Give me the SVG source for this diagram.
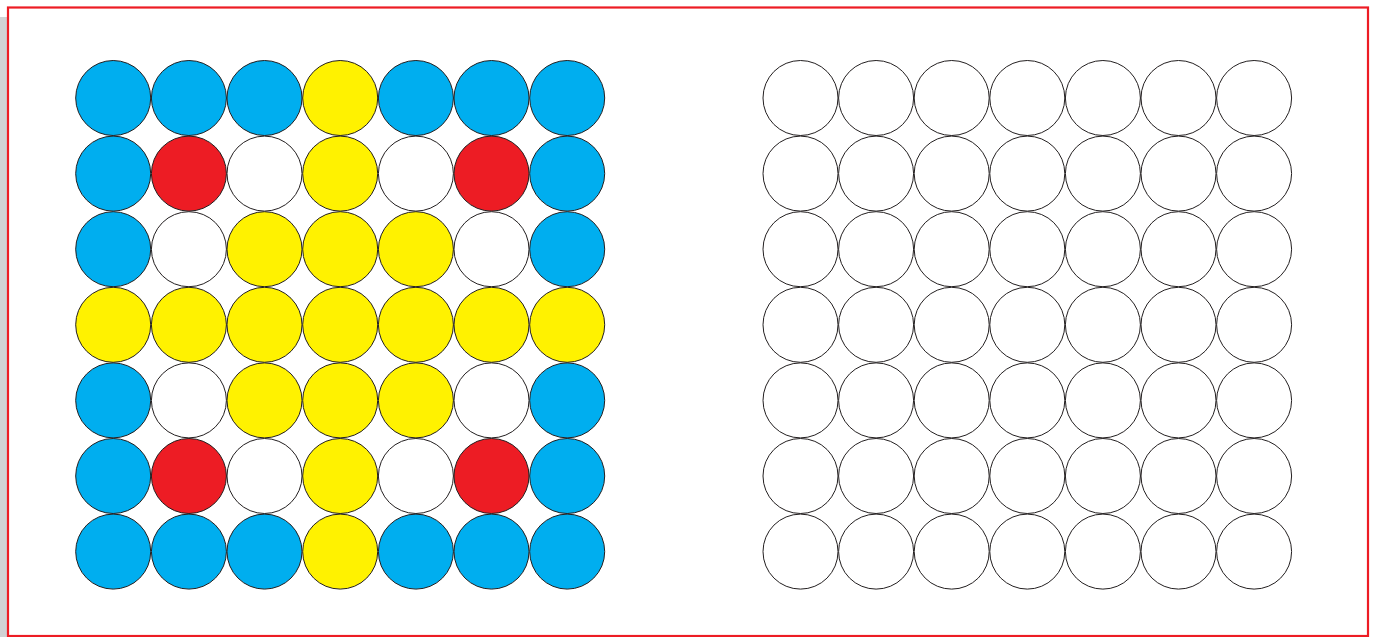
<svg xmlns="http://www.w3.org/2000/svg" width="1377" height="637" viewBox="0 0 1377 637">
<style>
circle{stroke:#231f20;stroke-width:1}
.b{fill:#00aeef}.y{fill:#fff200}.r{fill:#ed1c24}.w{fill:#ffffff}
</style>
<rect x="0" y="0" width="1377" height="637" fill="#ffffff"/>
<rect x="0" y="17" width="8" height="620" fill="#d1d2d4"/>
<rect x="8" y="7.5" width="1360" height="628.5" fill="#ffffff" stroke="#ed1c24" stroke-width="2.2"/>
<g id="left-grid">
<g id="L1"><circle class="b" cx="113.2" cy="98" r="37.5"/><circle class="b" cx="188.9" cy="98" r="37.5"/><circle class="b" cx="264.5" cy="98" r="37.5"/><circle class="y" cx="340.2" cy="98" r="37.5"/><circle class="b" cx="415.9" cy="98" r="37.5"/><circle class="b" cx="491.5" cy="98" r="37.5"/><circle class="b" cx="567.2" cy="98" r="37.5"/></g>
<g id="L2"><circle class="b" cx="113.2" cy="173.6" r="37.5"/><circle class="r" cx="188.9" cy="173.6" r="37.5"/><circle class="w" cx="264.5" cy="173.6" r="37.5"/><circle class="y" cx="340.2" cy="173.6" r="37.5"/><circle class="w" cx="415.9" cy="173.6" r="37.5"/><circle class="r" cx="491.5" cy="173.6" r="37.5"/><circle class="b" cx="567.2" cy="173.6" r="37.5"/></g>
<g id="L3"><circle class="b" cx="113.2" cy="249.2" r="37.5"/><circle class="w" cx="188.9" cy="249.2" r="37.5"/><circle class="y" cx="264.5" cy="249.2" r="37.5"/><circle class="y" cx="340.2" cy="249.2" r="37.5"/><circle class="y" cx="415.9" cy="249.2" r="37.5"/><circle class="w" cx="491.5" cy="249.2" r="37.5"/><circle class="b" cx="567.2" cy="249.2" r="37.5"/></g>
<g id="L4"><circle class="y" cx="113.2" cy="324.8" r="37.5"/><circle class="y" cx="188.9" cy="324.8" r="37.5"/><circle class="y" cx="264.5" cy="324.8" r="37.5"/><circle class="y" cx="340.2" cy="324.8" r="37.5"/><circle class="y" cx="415.9" cy="324.8" r="37.5"/><circle class="y" cx="491.5" cy="324.8" r="37.5"/><circle class="y" cx="567.2" cy="324.8" r="37.5"/></g>
<g id="L5"><circle class="b" cx="113.2" cy="400.4" r="37.5"/><circle class="w" cx="188.9" cy="400.4" r="37.5"/><circle class="y" cx="264.5" cy="400.4" r="37.5"/><circle class="y" cx="340.2" cy="400.4" r="37.5"/><circle class="y" cx="415.9" cy="400.4" r="37.5"/><circle class="w" cx="491.5" cy="400.4" r="37.5"/><circle class="b" cx="567.2" cy="400.4" r="37.5"/></g>
<g id="L6"><circle class="b" cx="113.2" cy="476" r="37.5"/><circle class="r" cx="188.9" cy="476" r="37.5"/><circle class="w" cx="264.5" cy="476" r="37.5"/><circle class="y" cx="340.2" cy="476" r="37.5"/><circle class="w" cx="415.9" cy="476" r="37.5"/><circle class="r" cx="491.5" cy="476" r="37.5"/><circle class="b" cx="567.2" cy="476" r="37.5"/></g>
<g id="L7"><circle class="b" cx="113.2" cy="551.6" r="37.5"/><circle class="b" cx="188.9" cy="551.6" r="37.5"/><circle class="b" cx="264.5" cy="551.6" r="37.5"/><circle class="y" cx="340.2" cy="551.6" r="37.5"/><circle class="b" cx="415.9" cy="551.6" r="37.5"/><circle class="b" cx="491.5" cy="551.6" r="37.5"/><circle class="b" cx="567.2" cy="551.6" r="37.5"/></g>
</g>
<g id="right-grid">
<g id="R1"><circle class="w" cx="800.5" cy="98" r="37.5"/><circle class="w" cx="876.1" cy="98" r="37.5"/><circle class="w" cx="951.7" cy="98" r="37.5"/><circle class="w" cx="1027.3" cy="98" r="37.5"/><circle class="w" cx="1102.9" cy="98" r="37.5"/><circle class="w" cx="1178.5" cy="98" r="37.5"/><circle class="w" cx="1254.1" cy="98" r="37.5"/></g>
<g id="R2"><circle class="w" cx="800.5" cy="173.6" r="37.5"/><circle class="w" cx="876.1" cy="173.6" r="37.5"/><circle class="w" cx="951.7" cy="173.6" r="37.5"/><circle class="w" cx="1027.3" cy="173.6" r="37.5"/><circle class="w" cx="1102.9" cy="173.6" r="37.5"/><circle class="w" cx="1178.5" cy="173.6" r="37.5"/><circle class="w" cx="1254.1" cy="173.6" r="37.5"/></g>
<g id="R3"><circle class="w" cx="800.5" cy="249.2" r="37.5"/><circle class="w" cx="876.1" cy="249.2" r="37.5"/><circle class="w" cx="951.7" cy="249.2" r="37.5"/><circle class="w" cx="1027.3" cy="249.2" r="37.5"/><circle class="w" cx="1102.9" cy="249.2" r="37.5"/><circle class="w" cx="1178.5" cy="249.2" r="37.5"/><circle class="w" cx="1254.1" cy="249.2" r="37.5"/></g>
<g id="R4"><circle class="w" cx="800.5" cy="324.8" r="37.5"/><circle class="w" cx="876.1" cy="324.8" r="37.5"/><circle class="w" cx="951.7" cy="324.8" r="37.5"/><circle class="w" cx="1027.3" cy="324.8" r="37.5"/><circle class="w" cx="1102.9" cy="324.8" r="37.5"/><circle class="w" cx="1178.5" cy="324.8" r="37.5"/><circle class="w" cx="1254.1" cy="324.8" r="37.5"/></g>
<g id="R5"><circle class="w" cx="800.5" cy="400.4" r="37.5"/><circle class="w" cx="876.1" cy="400.4" r="37.5"/><circle class="w" cx="951.7" cy="400.4" r="37.5"/><circle class="w" cx="1027.3" cy="400.4" r="37.5"/><circle class="w" cx="1102.9" cy="400.4" r="37.5"/><circle class="w" cx="1178.5" cy="400.4" r="37.5"/><circle class="w" cx="1254.1" cy="400.4" r="37.5"/></g>
<g id="R6"><circle class="w" cx="800.5" cy="476" r="37.5"/><circle class="w" cx="876.1" cy="476" r="37.5"/><circle class="w" cx="951.7" cy="476" r="37.5"/><circle class="w" cx="1027.3" cy="476" r="37.5"/><circle class="w" cx="1102.9" cy="476" r="37.5"/><circle class="w" cx="1178.5" cy="476" r="37.5"/><circle class="w" cx="1254.1" cy="476" r="37.5"/></g>
<g id="R7"><circle class="w" cx="800.5" cy="551.6" r="37.5"/><circle class="w" cx="876.1" cy="551.6" r="37.5"/><circle class="w" cx="951.7" cy="551.6" r="37.5"/><circle class="w" cx="1027.3" cy="551.6" r="37.5"/><circle class="w" cx="1102.9" cy="551.6" r="37.5"/><circle class="w" cx="1178.5" cy="551.6" r="37.5"/><circle class="w" cx="1254.1" cy="551.6" r="37.5"/></g>
</g>
</svg>
